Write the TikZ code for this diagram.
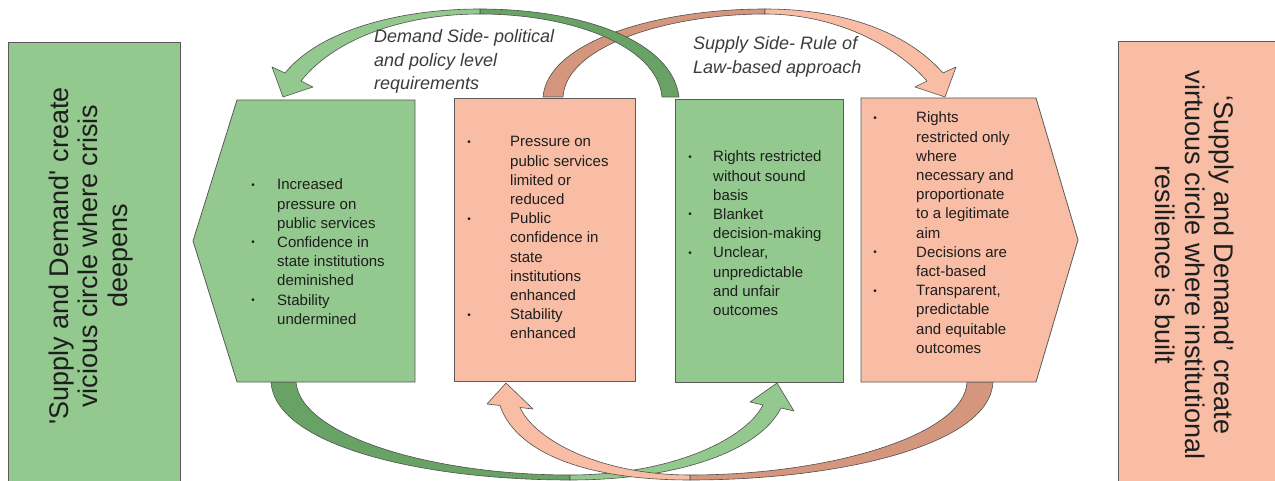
\documentclass[tikz,border=0pt]{standalone}
\usepackage{fontspec}
\setmainfont{Liberation Sans}

\definecolor{lgreen}{RGB}{147,201,142}
\definecolor{dgreen}{RGB}{104,162,100}
\definecolor{lsalmon}{RGB}{248,189,164}
\definecolor{dsalmon}{RGB}{212,150,125}
\definecolor{boxline}{RGB}{90,90,90}
\definecolor{arrowline}{RGB}{80,80,80}
\definecolor{inktext}{RGB}{30,30,30}
\definecolor{labelgray}{RGB}{60,60,60}

\newcommand\listfont{\fontsize{15}{19.2}\selectfont}
\newcommand\arcfont{\fontsize{18}{23.5}\selectfont\itshape}
\newcommand\sidefont{\fontsize{27}{29.5}\selectfont}
\newcommand\plainsidefont{\fontsize{27}{29.5}\selectfont\addfontfeatures{Ligatures=TeXOff}}

% left-aligned block of lines whose baseline is that of its first line
\newcommand\stacklines[1]{\vtop{\halign{##\hfil\cr#1\crcr}}}
% bullet centred #1 to the left of the line start
\newcommand\bulletat[1]{\llap{\makebox[0pt]{\raisebox{1.6pt}{\fontsize{10}{10}\selectfont\textbullet}}\hspace{#1}}}

\begin{document}
\begin{tikzpicture}[x=1pt,y=-1pt,
  greenbox/.style={draw=boxline, fill=lgreen, line width=0.8pt},
  salmonbox/.style={draw=boxline, fill=lsalmon, line width=0.8pt},
  band/.style={draw=arrowline, line width=0.6pt, line join=round},
  listtext/.style={anchor=base west, inner sep=0pt, text=inktext, font=\listfont},
  sidetext/.style={inner sep=0pt, align=center, text=inktext, font=\sidefont},
  arclabel/.style={anchor=base west, inner sep=0pt, text=labelgray, font=\arcfont}]

\useasboundingbox (0,0) rectangle (1275,481);
\clip (0,0) rectangle (1275,481);
\fill[white] (0,0) rectangle (1275,481);

% ---- side panels ----
\node[greenbox, anchor=north west, minimum width=172pt, minimum height=460pt, inner sep=0pt] (vicious) at (8,42) {};
\node[salmonbox, anchor=north west, minimum width=180pt, minimum height=460pt, inner sep=0pt] (virtuous) at (1118,41) {};
\node[sidetext, font=\plainsidefont, rotate=90] (viciousText) at (91,256)
  {'Supply and Demand' create\\vicious circle where crisis\\deepens};
\node[sidetext, rotate=-90] (virtuousText) at (1195,265)
  {‘Supply and Demand’ create\\virtuous circle where institutional\\resilience is built};

% ---- upper curved arrows ----
% salmon: from the relief box over to the rule-of-law box
\fill[band, fill=dsalmon] (543,97) .. controls (548,40) and (660,9) .. (765,9)
  -- (765,14) .. controls (670,14) and (566,45) .. (563,97) -- cycle;
\fill[band, fill=lsalmon] (765,9) .. controls (840,9) and (905,30) .. (943,73)
  -- (956,67) -- (945,97) -- (915,87) -- (927,81)
  .. controls (895,45) and (835,14) .. (765,14) -- cycle;
% green: from the arbitrary box back to the crisis pentagon
\fill[band, fill=dgreen] (679,97) .. controls (672,40) and (580,9) .. (480,9)
  -- (480,14) .. controls (570,14) and (657,45) .. (662,97) -- cycle;
\fill[band, fill=lgreen] (480,9) .. controls (400,9) and (320,30) .. (285,73)
  -- (272,67) -- (283,97) -- (313,87) -- (301,81)
  .. controls (335,38) and (405,14) .. (480,14) -- cycle;

% ---- lower curved arrows ----
\fill[band, fill=dgreen] (271,382) .. controls (275,445) and (420,480) .. (570,480)
  -- (570,475) .. controls (430,475) and (300,435) .. (296,382) -- cycle;
\fill[band, fill=lgreen] (570,480) .. controls (680,480) and (760,450) .. (781,408)
  -- (794,411) -- (777,383) -- (750,402) -- (763,405)
  .. controls (745,440) and (670,475) .. (570,475) -- cycle;
\fill[band, fill=dsalmon] (993,382) .. controls (990,445) and (840,480) .. (690,480)
  -- (690,475) .. controls (830,475) and (965,435) .. (967,382) -- cycle;
\fill[band, fill=lsalmon] (690,480) .. controls (580,480) and (515,450) .. (500,405.5)
  -- (487,404) -- (506,383) -- (533,409) -- (520,407.5)
  .. controls (535,440) and (600,475) .. (690,475) -- cycle;

% ---- the four central boxes ----
\draw[greenbox] (237,100) -- (415,100) -- (415,382) -- (237,382) -- (193,241) -- cycle;
\node[salmonbox, anchor=north west, minimum width=181pt, minimum height=283pt, inner sep=0pt] (relief) at (454,98) {};
\node[greenbox, anchor=north west, minimum width=168pt, minimum height=283pt, inner sep=0pt] (arbitrary) at (675,99) {};
\draw[salmonbox] (861,98) -- (1036,98) -- (1078,240) -- (1036,382) -- (861,382) -- cycle;

% ---- bullet lists ----
\node[listtext] (crisisList) at (277,190) {\stacklines{%
  \bulletat{24pt}Increased\cr pressure on\cr public services\cr
  \bulletat{24pt}Confidence in\cr state institutions\cr deminished\cr
  \bulletat{24pt}Stability\cr undermined}};
\node[listtext] (reliefList) at (510,147) {\stacklines{%
  \bulletat{41pt}Pressure on\cr public services\cr limited or\cr reduced\cr
  \bulletat{41pt}Public\cr confidence in\cr state\cr institutions\cr enhanced\cr
  \bulletat{41pt}Stability\cr enhanced}};
\node[listtext] (arbitraryList) at (713,162) {\stacklines{%
  \bulletat{23pt}Rights restricted\cr without sound\cr basis\cr
  \bulletat{23pt}Blanket\cr decision-making\cr
  \bulletat{23pt}Unclear,\cr unpredictable\cr and unfair\cr outcomes}};
\node[listtext] (lawList) at (916,123) {\stacklines{%
  \bulletat{41pt}Rights\cr restricted only\cr where\cr necessary and\cr proportionate\cr to a legitimate\cr aim\cr
  \bulletat{41pt}Decisions are\cr fact-based\cr
  \bulletat{41pt}Transparent,\cr predictable\cr and equitable\cr outcomes}};

% ---- arrow captions ----
\node[arclabel] (demandLabel) at (374,43) {\stacklines{Demand Side- political\cr and policy level\cr requirements}};
\node[arclabel] (supplyLabel) at (693,50) {\stacklines{Supply Side- Rule of\cr Law-based approach}};
\end{tikzpicture}
\end{document}
